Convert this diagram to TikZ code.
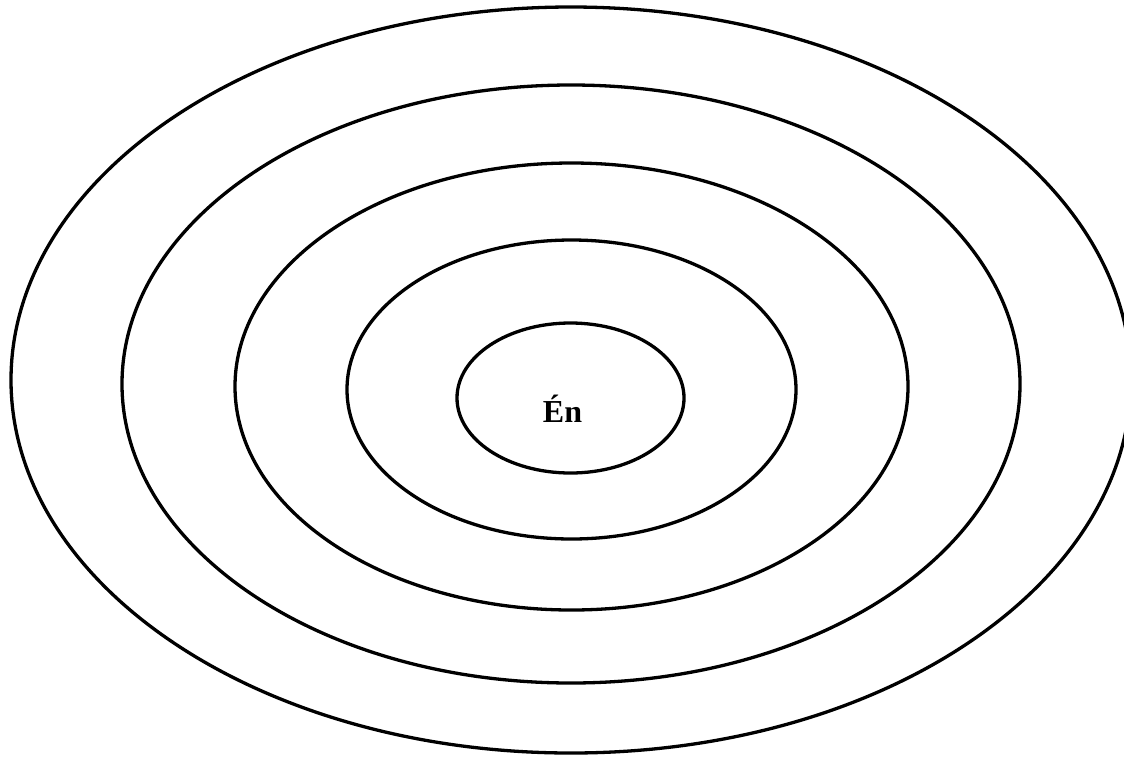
\documentclass[tikz,border=0pt]{standalone}
\usepackage{fontspec}
\setmainfont{Liberation Serif}
\begin{document}
\begin{tikzpicture}[x=1pt,y=-1pt,
  ring/.style={draw=black,line width=3.3pt},
  lbl/.style={font=\fontsize{32}{38}\selectfont\bfseries,inner sep=0pt,anchor=base}]
\useasboundingbox (0,0) rectangle (1124,756);
\begin{scope}
\clip (0,0) rectangle (1124,756);
\draw[ring] (571,380) ellipse [x radius=560, y radius=373];
\end{scope}
\draw[ring] (571,384) ellipse [x radius=449, y radius=299];
\draw[ring] (571.5,386.5) ellipse [x radius=336.5, y radius=223.5];
\draw[ring] (571.5,389.5) ellipse [x radius=224.5, y radius=149.5];
\draw[ring] (570.5,398) ellipse [x radius=113.5, y radius=75];
\node[lbl] (en) at (562.5,422) {Én};
\end{tikzpicture}
\end{document}
